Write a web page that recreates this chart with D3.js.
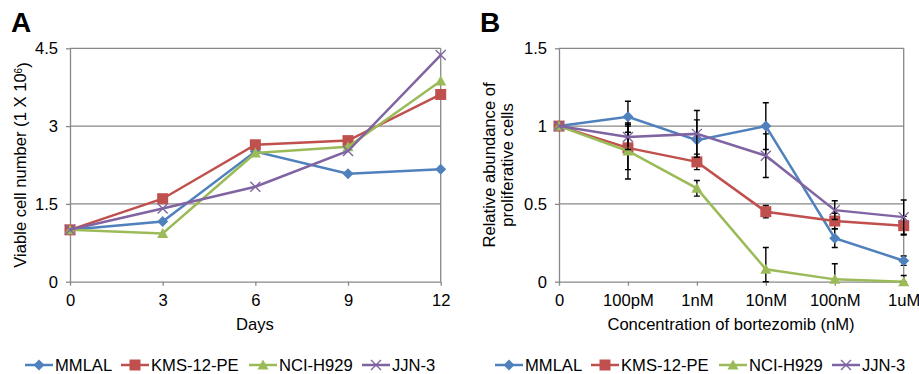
<!DOCTYPE html>
<html>
<head>
<meta charset="utf-8">
<script src="https://cdn.jsdelivr.net/npm/d3@7"></script>
<style>
  body { margin: 0; background: #fff; }
  svg { font-family: "Liberation Sans", Arial, sans-serif; }
</style>
</head>
<body>
<div id="chart"></div>
<script>
// Data
const seriesNames = ["MMLAL", "KMS-12-PE", "NCI-H929", "JJN-3"];
const seriesColors = ["#4F81BD", "#C0504D", "#9BBB59", "#8064A2"];
const seriesShapes = ["diamond", "square", "triangle", "cross"];

// Panel A: viable cell number by day
const days = [0, 3, 6, 9, 12];
const daysTicks = [0, 1.5, 3, 4.5];
const mmlalA = [1.0, 1.16, 2.51, 2.08, 2.17];
const kmsA = [1.0, 1.6, 2.64, 2.72, 3.61];
const nciA = [1.0, 0.93, 2.48, 2.6, 3.87];
const jjnA = [1.0, 1.41, 1.83, 2.52, 4.37];

// Panel B: relative abundance by concentration
const concentrations = ["0", "100pM", "1nM", "10nM", "100nM", "1uM"];
const concTicks = [0, 0.5, 1, 1.5];
const mmlalB = [1.0, 1.06, 0.91, 1.0, 0.28, 0.135];
const kmsB = [1.0, 0.86, 0.77, 0.45, 0.39, 0.36];
const nciB = [1.0, 0.84, 0.6, 0.08, 0.015, 0.0];
const jjnB = [1.0, 0.93, 0.95, 0.81, 0.46, 0.415];
const mmlalErr = [0, 0.1, 0.13, 0.15, 0.06, 0.03];
const kmsErr = [0, 0.14, 0.05, 0.04, 0.05, 0.06];
const nciErr = [0, 0.18, 0.05, 0.14, 0.1, 0.04];
const jjnErr = [0, 0.08, 0.15, 0.14, 0.06, 0.11];

const width = 919;
const height = 374;
const gridColor = "#888888";
const fontSize = "16.6px";

const svg = d3
  .select("#chart")
  .append("svg")
  .attr("width", width)
  .attr("height", height);

// Marker path generator
function markerPath(shape) {
  if (shape === "diamond") return "M0,-5.5L5.5,0L0,5.5L-5.5,0Z";
  if (shape === "square") return "M-5.5,-5.5H5.5V5.5H-5.5Z";
  if (shape === "triangle") return "M0,-5.5L5.5,4.5H-5.5Z";
  return "M-5,-5L5,5M5,-5L-5,5";
}
function drawMarker(g, shape, color, x, y) {
  const p = g
    .append("path")
    .attr("d", markerPath(shape))
    .attr("transform", `translate(${x},${y})`);
  if (shape === "cross") {
    p.attr("fill", "none").attr("stroke", color).attr("stroke-width", 1.4);
  } else {
    p.attr("fill", color);
  }
}

function drawPanel(opts) {
  const { xScale, yScale, yTicks, xTicks, series, errors } = opts;
  const g = svg.append("g");
  const [x0, x1] = xScale.range();
  const [yb, yt] = yScale.range();

  // Gridlines
  g.selectAll(".grid")
    .data(yTicks.filter((d) => d > 0))
    .join("line")
    .attr("x1", x0)
    .attr("x2", x1)
    .attr("y1", (d) => yScale(d))
    .attr("y2", (d) => yScale(d))
    .attr("stroke", gridColor)
    .attr("stroke-width", 1.3);
  // Right border
  g.append("line")
    .attr("x1", x1)
    .attr("x2", x1)
    .attr("y1", yt)
    .attr("y2", yb)
    .attr("stroke", gridColor)
    .attr("stroke-width", 1.3);

  // Axes
  const xAxis = d3.axisBottom(xScale).tickSize(4).tickSizeOuter(0).tickPadding(9);
  if (xTicks) xAxis.tickValues(xTicks);
  const gx = g.append("g").attr("transform", `translate(0,${yb})`).call(xAxis);
  const gy = g
    .append("g")
    .attr("transform", `translate(${x0},0)`)
    .call(
      d3
        .axisLeft(yScale)
        .tickValues(yTicks)
        .tickFormat((d) => String(d))
        .tickSize(4)
        .tickSizeOuter(0)
        .tickPadding(8)
    );
  [gx, gy].forEach((a) => {
    a.select(".domain").attr("stroke", gridColor).attr("stroke-width", 1.3);
    a.selectAll(".tick line").attr("stroke", gridColor).attr("stroke-width", 1.3);
    a.selectAll(".tick text")
      .attr("fill", "#000")
      .style("font-size", fontSize)
      .style("font-family", "'Liberation Sans', Arial, sans-serif");
  });

  // Lines and markers
  const line = d3
    .line()
    .x((d) => d.x)
    .y((d) => d.y);
  series.forEach((s, i) => {
    const pts = s.values.map((v, j) => ({
      x: xScale(s.keys[j]),
      y: yScale(v),
      v: v,
      e: errors ? errors[i][j] : 0,
    }));
    g.append("path")
      .datum(pts)
      .attr("d", line)
      .attr("fill", "none")
      .attr("stroke", seriesColors[i])
      .attr("stroke-width", 2.5);
    if (errors) {
      pts.filter((d) => d.e > 0).forEach((d) => {
        const top = yScale(d.v + d.e);
        const bot = yScale(Math.max(0, d.v - d.e));
        g.append("path")
          .attr(
            "d",
            `M${d.x},${top}V${bot}M${d.x - 3},${top}H${d.x + 3}M${d.x - 3},${bot}H${d.x + 3}`
          )
          .attr("stroke", "#000")
          .attr("stroke-width", 1.4)
          .attr("fill", "none");
      });
    }
    pts.forEach((d) => drawMarker(g, seriesShapes[i], seriesColors[i], d.x, d.y));
  });
  return g;
}

function drawLegend(startX, y, positions) {
  const g = svg.append("g");
  seriesNames.forEach((name, i) => {
    const lx = startX + positions[i];
    g.append("line")
      .attr("x1", lx)
      .attr("x2", lx + 28)
      .attr("y1", y)
      .attr("y2", y)
      .attr("stroke", seriesColors[i])
      .attr("stroke-width", 2.5);
    drawMarker(g, seriesShapes[i], seriesColors[i], lx + 14, y);
    g.append("text")
      .attr("x", lx + 30)
      .attr("y", y)
      .attr("dy", "0.36em")
      .style("font-size", fontSize)
      .text(name);
  });
}

// Panel A
const xA = d3.scaleLinear().domain([0, 12]).range([70, 440.7]);
const yA = d3.scaleLinear().domain([0, 4.5]).range([281.7, 48.3]);
drawPanel({
  xScale: xA,
  yScale: yA,
  yTicks: daysTicks,
  xTicks: days,
  series: [mmlalA, kmsA, nciA, jjnA].map((v) => ({ keys: days, values: v })),
});

// Panel B
const xB = d3.scalePoint().domain(concentrations).range([559, 903.7]).padding(0);
const yB = d3.scaleLinear().domain([0, 1.5]).range([281.7, 48.3]);
drawPanel({
  xScale: xB,
  yScale: yB,
  yTicks: concTicks,
  series: [mmlalB, kmsB, nciB, jjnB].map((v) => ({ keys: concentrations, values: v })),
  errors: [mmlalErr, kmsErr, nciErr, jjnErr],
});

// Panel labels
svg.append("text").attr("x", 11).attr("y", 32).style("font-size", "28px").style("font-weight", "bold").text("A");
svg.append("text").attr("x", 480).attr("y", 32).style("font-size", "28px").style("font-weight", "bold").text("B");

// Axis titles
svg.append("text")
  .attr("x", 255)
  .attr("y", 324)
  .attr("dy", "0.36em")
  .attr("text-anchor", "middle")
  .style("font-size", fontSize)
  .text("Days");
svg.append("text")
  .attr("x", 731)
  .attr("y", 324)
  .attr("dy", "0.36em")
  .attr("text-anchor", "middle")
  .style("font-size", fontSize)
  .text("Concentration of bortezomib (nM)");

const yTitleA = svg
  .append("text")
  .attr("transform", "translate(20,165) rotate(-90)")
  .attr("text-anchor", "middle")
  .attr("dy", "0.36em")
  .style("font-size", fontSize);
yTitleA.append("tspan").text("Viable cell number (1 X 10");
yTitleA.append("tspan").attr("dy", "-0.4em").style("font-size", "10px").text("6");
yTitleA.append("tspan").attr("dy", "0.4em").text(")");

const yTitleB = svg
  .append("text")
  .attr("transform", "translate(498,165) rotate(-90)")
  .attr("text-anchor", "middle")
  .style("font-size", fontSize);
yTitleB.append("tspan").attr("x", 0).attr("dy", "-0.2em").text("Relative abundance of");
yTitleB.append("tspan").attr("x", 0).attr("dy", "1.1em").text("proliferative cells");

// Legends
drawLegend(25, 365, [0, 96, 224, 337]);
drawLegend(495, 365, [0, 96, 224, 337]);
</script>
</body>
</html>
